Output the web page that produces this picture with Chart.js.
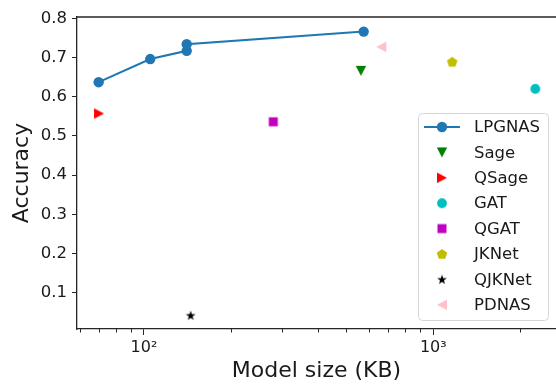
<!DOCTYPE html>
<html><head><meta charset="utf-8">
<script src="https://cdn.jsdelivr.net/npm/chart.js@4.4.0/dist/chart.umd.min.js"></script>
<style>html,body{margin:0;padding:0;background:#fff;overflow:hidden;}canvas{display:block;}</style>
</head><body><canvas id="c" width="556" height="384" style="width:556px;height:384px"></canvas>
<script>
// ---- data ----
const seriesNames = ['LPGNAS','Sage','QSage','GAT','QGAT','JKNet','QJKNet','PDNAS'];
const lpgnasSize = [69.7, 105.1, 140.5, 140.5, 574.6];
const lpgnasAcc  = [0.637, 0.696, 0.717, 0.734, 0.766];
const baselineNames = ['Sage','QSage','GAT','QGAT','JKNet','QJKNet','PDNAS'];
const baselineSize  = [562, 69.9, 2252, 279.9, 1163, 145, 661];
const baselineAcc   = [0.666, 0.557, 0.620, 0.536, 0.689, 0.042, 0.727];
const yTickValues = [0.1,0.2,0.3,0.4,0.5,0.6,0.7,0.8];
const xMajorTicks = [100, 1000];
const xMajorLabels = ['10\u00B2','10\u00B3'];
const xMinorTicks = [60,70,80,90,200,300,400,500,600,700,800,900,2000];

// ---- styles ----
const FONT = "'DejaVu Sans', sans-serif";
const TXT = '#1a1a1a';
const baselineColors = ['#008000','#ff0000','#00bfbf','#bf00bf','#bfbf00','#000000','#ffc0cb'];
const baselineKinds  = ['tri_down','tri_right','circle','square','pentagon','star','tri_left'];

function makeMarker(kind, color){
  const c = document.createElement('canvas'); c.width = 16; c.height = 16;
  const g = c.getContext('2d'); g.translate(8,8); g.fillStyle = color; g.beginPath();
  const poly = pts => { g.moveTo(pts[0][0],pts[0][1]); for (let i=1;i<pts.length;i++) g.lineTo(pts[i][0],pts[i][1]); g.closePath(); };
  if (kind==='tri_down') poly([[0,5],[-5.2,-5],[5.2,-5]]);
  else if (kind==='tri_right') poly([[5,0],[-5,-5.2],[-5,5.2]]);
  else if (kind==='tri_left') poly([[-5,0],[5,-5.2],[5,5.2]]);
  else if (kind==='circle') g.arc(0,0,4.9,0,Math.PI*2);
  else if (kind==='square') g.rect(-4.5,-4.5,9,9);
  else if (kind==='pentagon') { const p=[]; for(let k=0;k<5;k++){const a=(-90+k*72)*Math.PI/180; p.push([5.5*Math.cos(a),5.5*Math.sin(a)+0.4]);} poly(p); }
  else if (kind==='star') { const p=[]; for(let k=0;k<10;k++){const r=k%2?2.0:5.1; const a=(-90+k*36)*Math.PI/180; p.push([r*Math.cos(a),r*Math.sin(a)+0.4]);} poly(p); }
  g.fill(); return c;
}
const markers = baselineKinds.map((k,i)=>makeMarker(k, baselineColors[i]));

const datasets = [{
  label: 'LPGNAS',
  data: lpgnasSize.map((x,i)=>({x, y: lpgnasAcc[i]})),
  showLine: true, borderColor: '#1f77b4', borderWidth: 2,
  backgroundColor: '#1f77b4', pointRadius: 5.2, pointBorderWidth: 0, pointStyle: 'circle'
}].concat(baselineNames.map((n,i)=>({
  label: n, data: [{x: baselineSize[i], y: baselineAcc[i]}],
  pointStyle: markers[i], pointRadius: 5, backgroundColor: baselineColors[i], borderColor: baselineColors[i]
})));

const framePlugin = {
  id: 'frame',
  afterDraw(chart){
    const ctx = chart.ctx, a = chart.chartArea, xs = chart.scales.x;
    ctx.save();
    ctx.strokeStyle = '#262626'; ctx.lineWidth = 1.3;
    ctx.beginPath(); ctx.moveTo(a.left, a.top); ctx.lineTo(a.right, a.top); ctx.stroke();
    ctx.lineWidth = 1;
    xMinorTicks.forEach(v=>{
      const px = Math.round(xs.getPixelForValue(v)) + 0.5;
      ctx.beginPath(); ctx.moveTo(px, a.bottom); ctx.lineTo(px, a.bottom+3.5); ctx.stroke();
    });
    // legend
    const L = 418, T = 113, W = 130, H = 207;
    ctx.beginPath(); ctx.roundRect(L+0.5, T+0.5, W, H, 4);
    ctx.fillStyle = 'rgba(255,255,255,0.8)'; ctx.fill();
    ctx.strokeStyle = '#d6d6d6'; ctx.lineWidth = 1; ctx.stroke();
    ctx.font = "16.5px " + FONT; ctx.fillStyle = TXT; ctx.textBaseline = 'middle'; ctx.textAlign = 'left';
    seriesNames.forEach((n,i)=>{
      const y = 127 + i*25.4, mx = 442;
      if (i===0){
        ctx.strokeStyle = '#1f77b4'; ctx.lineWidth = 2;
        ctx.beginPath(); ctx.moveTo(424, y); ctx.lineTo(460, y); ctx.stroke();
        ctx.fillStyle = '#1f77b4'; ctx.beginPath(); ctx.arc(mx, y, 5.2, 0, Math.PI*2); ctx.fill();
      } else {
        const m = markers[i-1]; ctx.drawImage(m, mx - m.width/2, y - m.height/2);
      }
      ctx.fillStyle = TXT; ctx.fillText(n, 474, y + 1);
    });
    ctx.restore();
  }
};

new Chart(document.getElementById('c'), {
  type: 'scatter',
  data: { datasets },
  options: {
    responsive: false, maintainAspectRatio: false, animation: false, devicePixelRatio: 1,
    layout: { autoPadding: false, padding: { top: 17, right: 0, left: 0, bottom: 0 } },
    plugins: { legend: { display: false }, tooltip: { enabled: false } },
    scales: {
      x: {
        type: 'logarithmic', position: 'bottom', min: 58.67, max: 2656, bounds: 'data',
        afterFit: s => { s.height = 55; s.paddingRight = 0; s.paddingLeft = 0; },
        afterBuildTicks: s => { s.ticks = xMajorTicks.map(v=>({value: v, major: true})); },
        ticks: { callback: (v,i) => xMajorLabels[i], font: { family: FONT, size: 16 }, color: TXT, padding: 3, maxRotation: 0, autoSkip: false },
        grid: { drawOnChartArea: false, drawTicks: true, tickLength: 6, tickColor: '#262626', tickWidth: 1 },
        border: { display: true, color: '#262626', width: 1.3 },
        title: { display: true, text: 'Model size (KB)', font: { family: FONT, size: 22 }, color: TXT, padding: { top: 0, bottom: 0 } }
      },
      y: {
        type: 'linear', min: 0.0074, max: 0.8033, bounds: 'data',
        afterFit: s => { s.width = 77; s.paddingTop = 0; s.paddingBottom = 0; },
        afterBuildTicks: s => { s.ticks = yTickValues.map(v=>({value: v})); },
        ticks: { callback: v => v.toFixed(1), font: { family: FONT, size: 16.5 }, color: TXT, padding: 5 },
        grid: { drawOnChartArea: false, drawTicks: true, tickLength: 5, tickColor: '#262626', tickWidth: 1 },
        border: { display: true, color: '#262626', width: 1.3 },
        title: { display: true, text: 'Accuracy', font: { family: FONT, size: 22 }, color: TXT, padding: { top: 9, bottom: 0 } }
      }
    }
  },
  plugins: [framePlugin]
});
</script></body></html>
